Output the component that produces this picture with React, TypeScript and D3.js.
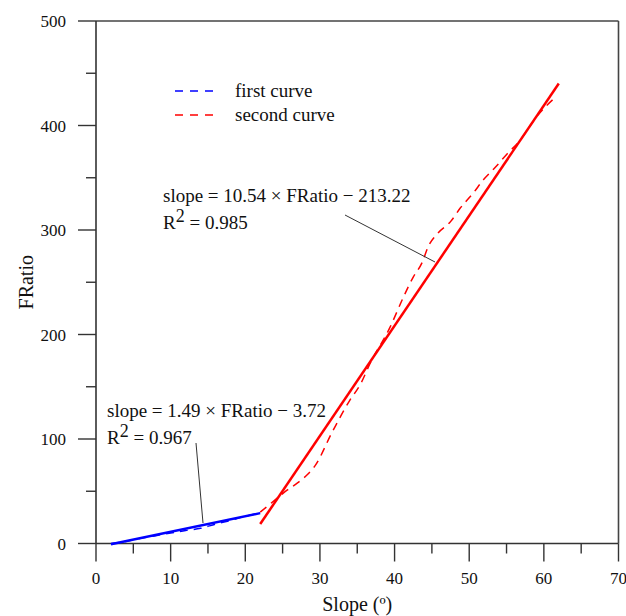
import React from "react";
import * as d3 from "d3";

const firstCurveX = [2, 4, 6, 8, 10, 12, 14, 16, 18, 20, 22];
const firstCurveY = [0, 2, 5, 7.5, 10, 12.5, 14.5, 18.5, 22, 26, 29];
const secondCurveX = [22, 24.3, 25.6, 27, 28.4, 29.4, 31.6, 34, 35.4, 36.7, 39.4, 41.2, 42.5, 43.7, 44.5, 45.8, 47.5, 48.8, 50.5, 51.9, 53.5, 55.1, 56.6, 59.2, 61.7];
const secondCurveY = [30, 43.5, 51, 58, 66.5, 75, 106, 137, 152, 172, 207, 236, 255, 269, 284, 297, 308, 321, 335, 348, 360, 373, 384, 410, 428];
const fit1 = { slope: 1.49, intercept: -3.72, x0: 2, x1: 22 };
const fit2 = { slope: 10.54, intercept: -213.22, x0: 22, x1: 62 };
const xTicks = [0, 10, 20, 30, 40, 50, 60, 70];
const yTicks = [0, 100, 200, 300, 400, 500];
const xMinor = [5, 15, 25, 35, 45, 55, 65];
const yMinor = [50, 150, 250, 350, 450];
const legendLabels = ["first curve", "second curve"];

const W = 626, H = 616;
const L = 96, R = 618.5, T = 21, B = 543.5;
const FONT = "'Liberation Serif', 'Times New Roman', serif";

export default function App() {
  const x = d3.scaleLinear().domain([0, 70]).range([L, R]);
  const y = d3.scaleLinear().domain([0, 500]).range([B, T]);
  const curve = d3.line<[number, number]>().x(d => x(d[0])).y(d => y(d[1])).curve(d3.curveMonotoneX);
  const c1 = firstCurveX.map((v, i) => [v, firstCurveY[i]] as [number, number]);
  const c2 = secondCurveX.map((v, i) => [v, secondCurveY[i]] as [number, number]);
  const fitLine = (f: typeof fit1) =>
    d3.line<number>().x(v => x(v)).y(v => y(f.slope * v + f.intercept))([f.x0, f.x1]) || "";
  const axisColor = "#333";
  return (
    <svg width={W} height={H} style={{ position: "absolute", left: 0, top: 0, background: "#fff" }} fontFamily={FONT}>
      <rect x={0} y={0} width={W} height={H} fill="#fff" />
      {/* frame */}
      <line x1={L} x2={R} y1={T} y2={T} stroke="#444" strokeWidth={1.6} />
      <line x1={R} x2={R} y1={T} y2={B} stroke="#444" strokeWidth={1.6} />
      <line x1={L} x2={R} y1={B} y2={B} stroke={axisColor} strokeWidth={1.6} />
      <line x1={L} x2={L} y1={T} y2={B} stroke={axisColor} strokeWidth={1.6} />
      {xTicks.map(t => (
        <g key={"xt" + t}>
          <line x1={x(t)} x2={x(t)} y1={B} y2={B + 18} stroke={axisColor} strokeWidth={1.4} />
          <text x={x(t)} y={B + 40} fontSize={17} textAnchor="middle" fill="#111">{t}</text>
        </g>
      ))}
      {xMinor.map(t => (
        <line key={"xm" + t} x1={x(t)} x2={x(t)} y1={B} y2={B + 10} stroke={axisColor} strokeWidth={1.4} />
      ))}
      {yTicks.map(t => (
        <g key={"yt" + t}>
          <line x1={L - 18} x2={L} y1={y(t)} y2={y(t)} stroke={axisColor} strokeWidth={1.4} />
          <text x={L - 30} y={y(t) + 6} fontSize={17} textAnchor="end" fill="#111">{t}</text>
        </g>
      ))}
      {yMinor.map(t => (
        <line key={"ym" + t} x1={L - 10} x2={L} y1={y(t)} y2={y(t)} stroke={axisColor} strokeWidth={1.4} />
      ))}
      <text x={(L + R) / 2} y={611} fontSize={20} textAnchor="middle" fill="#111">Slope (º)</text>
      <text transform={`translate(33, ${(T + B) / 2}) rotate(-90)`} fontSize={20} textAnchor="middle" fill="#111">FRatio</text>

      {/* curves */}
      <path d={curve(c1) || ""} fill="none" stroke="#0000ff" strokeWidth={1.5} strokeDasharray="8,6" />
      <path d={curve(c2) || ""} fill="none" stroke="#ff0000" strokeWidth={1.5} strokeDasharray="8,6" />
      <path d={fitLine(fit1)} fill="none" stroke="#0000ff" strokeWidth={2.5} />
      <path d={fitLine(fit2)} fill="none" stroke="#ff0000" strokeWidth={2.5} />

      {/* legend */}
      {legendLabels.map((lab, i) => (
        <g key={lab}>
          <line x1={175} x2={220} y1={91 + i * 24} y2={91 + i * 24} stroke={i === 0 ? "#0000ff" : "#ff0000"} strokeWidth={1.5} strokeDasharray="8,7" />
          <text x={235} y={97 + i * 24} fontSize={19} fill="#111">{lab}</text>
        </g>
      ))}

      {/* annotations */}
      <text x={163} y={202} fontSize={19} fill="#111">slope = 10.54 × FRatio − 213.22</text>
      <text x={163} y={229} fontSize={19} fill="#111">R<tspan dy={-7} fontSize={18}>2</tspan><tspan dy={7}> = 0.985</tspan></text>
      <line x1={345} y1={215} x2={435} y2={262} stroke="#333" strokeWidth={1} />
      <text x={107} y={417} fontSize={19} fill="#111">slope = 1.49 × FRatio − 3.72</text>
      <text x={107} y={444} fontSize={19} fill="#111">R<tspan dy={-7} fontSize={18}>2</tspan><tspan dy={7}> = 0.967</tspan></text>
      <line x1={196} y1={443} x2={203} y2={523} stroke="#333" strokeWidth={1} />
    </svg>
  );
}
